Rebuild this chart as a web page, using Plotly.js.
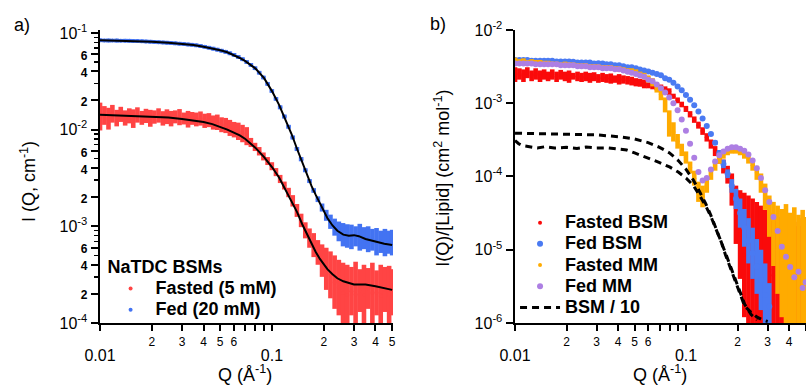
<!DOCTYPE html>
<html>
<head>
<meta charset="utf-8">
<script src="https://cdn.plot.ly/plotly-3.0.1.min.js"></script>
<style>html,body{margin:0;padding:0;background:#fff;}#chart{width:806px;height:387px;}</style>
</head>
<body>
<div id="chart"></div>
<script>
// ---------- shared Q grid (Å^-1) ----------
const Q = [0.0100,0.0106,0.0112,0.0118,0.0125,0.0132,0.0140,0.0148,0.0156,0.0165,
0.0175,0.0185,0.0196,0.0207,0.0219,0.0232,0.0245,0.0259,0.0274,0.0290,
0.0307,0.0325,0.0343,0.0363,0.0384,0.0406,0.0430,0.0455,0.0481,0.0509,
0.0538,0.0569,0.0602,0.0637,0.0674,0.0713,0.0754,0.0797,0.0843,0.0892,
0.0943,0.0998,0.1055,0.1116,0.1181,0.1249,0.1321,0.1397,0.1478,0.1563,
0.1653,0.1749,0.1850,0.1956,0.2069,0.2189,0.2315,0.2449,0.2590,0.2740,
0.2898,0.3065,0.3242,0.3429,0.3627,0.3837,0.4058,0.4292,0.4540,0.4802,0.5000];

// ---------- panel a) NaTDC BSMs: data envelopes (cm^-1) ----------
const fastedLo = [0.0098,0.0112,0.0100,0.0118,0.0108,0.0120,0.0110,0.0116,0.0104,0.0118,
0.0112,0.0117,0.0107,0.0115,0.0118,0.0110,0.0114,0.0108,0.0116,0.0111,
0.0113,0.0105,0.0112,0.0108,0.0110,0.0104,0.0106,0.0100,0.0099,0.0094,
0.0092,0.0086,0.0083,0.0078,0.0074,0.0069,0.0066,0.0060,0.0054,0.0048,
0.0043,0.0038,0.0033,0.0028,0.0024,0.0020,0.0016,0.00125,0.00098,0.00075,
0.00060,0.00048,0.00040,0.00030,0.00022,0.00018,0.00014,0.00012,0.00010,0.000095,
0.00012,0.00009,0.00013,0.000095,0.00014,0.00010,0.00012,0.000092,0.00013,0.00010,0.00012];
const fastedHi = [0.0190,0.0175,0.0168,0.0180,0.0160,0.0172,0.0158,0.0166,0.0162,0.0170,
0.0156,0.0164,0.0160,0.0158,0.0166,0.0155,0.0162,0.0156,0.0158,0.0163,
0.0150,0.0156,0.0152,0.0150,0.0154,0.0146,0.0148,0.0140,0.0143,0.0134,
0.0132,0.0126,0.0120,0.0118,0.0112,0.0106,0.0082,0.0073,0.0066,0.0058,
0.0052,0.0046,0.0040,0.0034,0.0029,0.0025,0.0021,0.0017,0.00135,0.00110,
0.00095,0.00085,0.00072,0.00065,0.00060,0.00055,0.00050,0.00045,0.00042,0.00040,
0.00038,0.00043,0.00036,0.00040,0.00037,0.00042,0.00035,0.00040,0.00038,0.00039,0.00036];
const fedLo = [0.0802,0.0800,0.0796,0.0800,0.0794,0.0798,0.0795,0.0792,0.0790,0.0788,
0.0784,0.0780,0.0776,0.0771,0.0766,0.0762,0.0756,0.0751,0.0745,0.0740,
0.0733,0.0726,0.0719,0.0711,0.0700,0.0686,0.0672,0.0657,0.0642,0.0626,
0.0608,0.0588,0.0566,0.0540,0.0511,0.0478,0.0446,0.0413,0.0371,0.0331,
0.0284,0.0240,0.0199,0.0162,0.0130,0.0102,0.0079,0.0060,0.0047,0.00362,
0.00280,0.00222,0.00178,0.00142,0.00114,0.00094,0.00080,0.00070,0.00062,0.00060,
0.00058,0.00062,0.00056,0.00058,0.00054,0.00056,0.00050,0.00053,0.00049,0.00052,0.00050];
const fedHi = [0.0878,0.0870,0.0874,0.0868,0.0872,0.0866,0.0868,0.0866,0.0862,0.0860,
0.0856,0.0852,0.0848,0.0842,0.0838,0.0832,0.0828,0.0821,0.0815,0.0808,
0.0801,0.0794,0.0787,0.0777,0.0766,0.0750,0.0734,0.0719,0.0702,0.0684,
0.0666,0.0643,0.0619,0.0590,0.0559,0.0522,0.0488,0.0451,0.0405,0.0361,
0.0310,0.0262,0.0217,0.0178,0.0143,0.0112,0.0087,0.0066,0.0052,0.00398,
0.00308,0.00248,0.00204,0.00172,0.00148,0.00132,0.00120,0.00112,0.00108,0.00105,
0.00104,0.00100,0.00106,0.00098,0.00100,0.00094,0.00096,0.00090,0.00094,0.00090,0.00092];

// model fits (black lines)
const fitQ = [0.010,0.015,0.020,0.025,0.030,0.035,0.040,0.045,0.050,0.055,0.060,0.065,0.070,0.080,0.090,0.100,
0.110,0.120,0.130,0.140,0.150,0.160,0.170,0.180,0.190,0.200,0.210,0.225,0.240,0.260,0.280,0.300,0.320,0.350,0.400,0.450,0.500];
const fitFed = [0.084,0.083,0.081,0.079,0.077,0.075,0.072,0.069,0.066,0.063,0.059,0.055,0.051,0.043,0.034,0.025,
0.018,0.0128,0.0090,0.0063,0.0046,0.0034,0.0026,0.0021,0.00172,0.00143,0.00122,0.00102,0.00090,0.00082,0.00080,0.00081,0.00079,0.00074,0.00069,0.00066,0.00064];
const fitFasted = [0.0142,0.0139,0.0136,0.0133,0.0129,0.0125,0.0120,0.0114,0.0107,0.0100,0.0093,0.0087,0.0080,0.0065,0.0052,0.0041,
0.0032,0.0024,0.0018,0.0014,0.00105,0.00082,0.00066,0.00054,0.00046,0.00040,0.00036,0.00032,0.00029,0.00027,0.00026,0.00025,0.00025,0.00025,0.00024,0.00023,0.00022];

// ---------- panel b) per lipid (cm^2 mol^-1) ----------
const bsmFastedLo = [0.00195,0.0021,0.00195,0.0022,0.0020,0.0021,0.00195,0.0021,0.0020,0.0021,
0.00195,0.0021,0.0020,0.0019,0.0021,0.0020,0.00195,0.0020,0.0019,0.0020,
0.0019,0.00195,0.0019,0.00185,0.0019,0.0018,0.00185,0.0018,0.00175,0.0017,
0.00168,0.0016,0.0016,0.00155,0.0015,0.00145,0.0014,0.0013,0.00115,0.0010,
0.00088,0.00076,0.00064,0.00054,0.00045,0.00037,0.00030,0.00024,0.00019,0.00015,
0.00011,0.00008,0.00004,0.000012,0.000004,0.0000012,0.0000008,0.0000009,0.0000008,0.0000009,
0.0000008,0.0000009,0.0000008,0.0000009,0.0000008,0.0000009,0.0000008,0.0000009,0.0000008,0.0000009,0.0000008];
const bsmFastedHi = [0.0031,0.0030,0.0029,0.0031,0.0028,0.0030,0.0028,0.0029,0.0027,0.0029,
0.0027,0.00285,0.0027,0.0028,0.0026,0.0027,0.0026,0.0027,0.0026,0.00265,
0.0025,0.0026,0.0025,0.00255,0.0024,0.0025,0.0024,0.00235,0.0023,0.0022,
0.00215,0.0021,0.0020,0.0019,0.00185,0.0018,0.0017,0.0016,0.00135,0.0012,
0.00105,0.00092,0.00078,0.00066,0.00056,0.00047,0.00039,0.00032,0.00026,0.00021,
0.00017,0.00014,0.00011,0.000075,0.000065,0.000060,0.000055,0.000050,0.000045,0.000040,
0.000035,0.000032,0.000025,0.000028,0.000022,0.000026,0.000020,0.000024,0.000021,0.000027,0.000022];
const bsmFedLo = [0.00375,0.00377,0.00374,0.00376,0.00366,0.00368,0.00365,0.00367,0.00364,0.00366,
0.00356,0.00357,0.00355,0.00357,0.00354,0.00346,0.00347,0.00345,0.00346,0.00336,
0.00337,0.00335,0.00327,0.00328,0.00317,0.00318,0.00307,0.00298,0.00299,0.00288,
0.00279,0.00269,0.00260,0.00250,0.00240,0.00231,0.00211,0.00202,0.00182,0.00163,
0.00144,0.00125,0.00107,0.00090,0.00074,0.00059,0.00047,0.00036,0.00027,0.00019,
0.00013,0.000095,0.000060,0.000036,0.000020,0.000011,0.0000065,0.0000040,0.0000025,0.0000015,
0.0000009,0.0000008,null,null,null,null,null,null,null,null,null];
const bsmFedHi = [0.00405,0.00404,0.00406,0.00403,0.00395,0.00393,0.00396,0.00394,0.00395,0.00393,
0.00385,0.00384,0.00386,0.00384,0.00385,0.00374,0.00375,0.00373,0.00374,0.00364,
0.00364,0.00365,0.00353,0.00354,0.00343,0.00343,0.00333,0.00322,0.00323,0.00312,
0.00301,0.00291,0.00281,0.00270,0.00260,0.00250,0.00229,0.00218,0.00198,0.00177,
0.00156,0.00135,0.00117,0.00098,0.00080,0.00065,0.00051,0.00040,0.00031,0.00023,
0.00017,0.000125,0.000092,0.000068,0.000050,0.000036,0.000027,0.000020,0.000014,0.000010,
0.0000065,0.0000035,null,null,null,null,null,null,null,null,null];
const mmFastedLo = [0.0033,0.0034,0.0033,0.0034,0.0033,0.0034,0.0032,0.0033,0.0032,0.0033,
0.0032,0.0032,0.0031,0.0032,0.0031,0.0031,0.0030,0.0031,0.0030,0.0030,
0.0029,0.0029,0.0029,0.00285,0.0028,0.0027,0.0027,0.0026,0.0025,0.0024,
0.0023,0.0021,0.0019,0.0017,0.0014,0.0011,0.00075,0.00035,0.00030,0.00024,
0.00019,0.00015,0.00011,0.000075,0.000045,0.000038,0.000060,0.000090,0.000120,0.000150,
0.000175,0.000195,0.000205,0.000205,0.000195,0.000175,0.000150,0.000120,0.000090,0.000060,
0.000035,0.000015,0.0000060,0.0000025,0.0000012,0.0000009,0.0000008,0.0000009,0.0000008,0.0000009,0.0000008];
const mmFastedHi = [0.0042,0.0040,0.0041,0.0039,0.0040,0.0039,0.0039,0.0038,0.0038,0.0037,
0.0037,0.0036,0.0037,0.0036,0.0036,0.0035,0.0035,0.0035,0.0034,0.0034,
0.0034,0.0033,0.0033,0.0033,0.0032,0.0032,0.0031,0.0030,0.0030,0.0029,
0.0027,0.0026,0.0024,0.0022,0.0019,0.0016,0.0012,0.0008,0.00055,0.00038,
0.00028,0.00022,0.00016,0.00012,0.000085,0.000075,0.000095,0.000130,0.000160,0.000195,
0.000220,0.000245,0.000255,0.000255,0.000245,0.000225,0.000200,0.000170,0.000140,0.000110,
0.000080,0.000055,0.000045,0.000040,0.000036,0.000042,0.000032,0.000038,0.000030,0.000035,0.000028];
const mmFed = [0.0035,0.0035,0.0035,0.0035,0.0035,0.0034,0.0034,0.0034,0.0034,0.0034,
0.0034,0.0033,0.0033,0.0033,0.0033,0.0032,0.0032,0.0032,0.0031,0.0031,
0.0031,0.0030,0.0030,0.0030,0.0029,0.0029,0.0028,0.0027,0.0026,0.0025,
0.0024,0.0023,0.0021,0.0020,0.0018,0.0016,0.0014,0.0012,0.00100,0.00080,
0.00060,0.00042,0.00028,0.00018,0.000115,0.000088,0.000095,0.000125,0.000160,0.000195,
0.000220,0.000240,0.000250,0.000250,0.000240,0.000225,0.000200,0.000165,0.000130,0.000095,
0.000065,0.000045,0.000028,0.000018,0.000011,0.0000080,0.0000058,0.0000042,0.0000050,0.0000030,0.0000036];

// BSM / 10 (dashed)
const bsm10FedQ = [0.010,0.015,0.020,0.030,0.040,0.050,0.060,0.070,0.080,0.090,0.100,0.110,0.120,
0.130,0.140,0.150,0.160,0.170,0.180,0.190,0.200,0.210,0.220,0.240,0.260];
const bsm10Fed = [3.9e-4,3.85e-4,3.8e-4,3.7e-4,3.5e-4,3.25e-4,2.9e-4,2.5e-4,2.1e-4,1.65e-4,1.25e-4,9e-5,6.2e-5,
4.3e-5,2.9e-5,1.95e-5,1.3e-5,9e-6,6.3e-6,4.5e-6,3.2e-6,2.4e-6,1.8e-6,1.3e-6,1.1e-6];
const bsm10FastedQ = [0.0100,0.0105,0.0110,0.0120,0.0135,0.0150,0.0170,0.0200,0.0230,0.0260,
0.0300,0.0350,0.0400,0.0450,0.0500,0.0600,0.0700,0.0800,0.0900,0.1000,
0.1100,0.1200,0.1300,0.1400,0.1500,0.1600,0.1700,0.1800,0.1900,0.2000,
0.2100,0.2200,0.2400,0.2600,0.2800,0.3000];
const bsm10Fasted = [3.1e-4,2.8e-4,2.65e-4,2.55e-4,2.45e-4,2.55e-4,2.45e-4,2.5e-4,2.42e-4,2.52e-4,
2.45e-4,2.46e-4,2.35e-4,2.3e-4,2.1e-4,1.8e-4,1.55e-4,1.35e-4,1.15e-4,9.5e-5,
7.6e-5,5.5e-5,4.0e-5,2.8e-5,1.9e-5,1.3e-5,8.5e-6,6e-6,4.2e-6,3e-6,
2.2e-6,1.7e-6,1.4e-6,1.2e-6,1.1e-6,1.05e-6];

// tick labels
const xTickVals = [0.01,0.02,0.03,0.04,0.05,0.06,0.1,0.2,0.3,0.4,0.5];
const xTickText = ['<br><span style="font-size:16px">0.01</span>','2','3','4','5','6',
  '<br><span style="font-size:16px">0.1</span>','2','3','4','5'];
const xMinorVals = [0.07,0.08,0.09];
const yaTickVals = [1e-4,2e-4,4e-4,6e-4,1e-3,2e-3,4e-3,6e-3,1e-2,2e-2,4e-2,6e-2,1e-1];
const yaTickText = ['10<sup>-4</sup>','<span style="font-size:12px"><b>2</b></span>','<span style="font-size:12px"><b>4</b></span>','<span style="font-size:12px"><b>6</b></span>',
  '10<sup>-3</sup>','<span style="font-size:12px"><b>2</b></span>','<span style="font-size:12px"><b>4</b></span>','<span style="font-size:12px"><b>6</b></span>',
  '10<sup>-2</sup>','<span style="font-size:12px"><b>2</b></span>','<span style="font-size:12px"><b>4</b></span>','<span style="font-size:12px"><b>6</b></span>','10<sup>-1</sup>'];
const yaMinorVals = [3e-4,5e-4,7e-4,8e-4,9e-4,3e-3,5e-3,7e-3,8e-3,9e-3,3e-2,5e-2,7e-2,8e-2,9e-2];
const ybTickVals = [1e-6,1e-5,1e-4,1e-3,1e-2];
const ybTickText = ['10<sup>-6</sup>','10<sup>-5</sup>','10<sup>-4</sup>','10<sup>-3</sup>','10<sup>-2</sup>'];

const FONT = 'Liberation Sans, Arial, Helvetica, sans-serif';

function bandTrace(q, lo, hi, color, name, xa, ya, legend, msize, thick) {
  const y = [], up = [], dn = [];
  for (let i = 0; i < q.length; i++) {
    if (lo[i] == null || hi[i] == null) { y.push(null); up.push(null); dn.push(null); continue; }
    const m = Math.sqrt(lo[i] * hi[i]);
    y.push(m); up.push(hi[i] - m); dn.push(m - lo[i]);
  }
  return {type: 'scatter', mode: 'markers', x: q, y: y, xaxis: xa, yaxis: ya,
    name: name, legend: legend,
    marker: {color: color, size: msize},
    error_y: {type: 'data', symmetric: false, array: up, arrayminus: dn, color: color, thickness: thick, width: 0}};
}
function lbl(t) { return '<span style="font-size:18px"><b>' + t + '</b></span>'; }

const traces = [
  bandTrace(Q, fastedLo, fastedHi, '#ff4444', lbl('Fasted (5 mM)'), 'x', 'y', 'legend', 4, 4.6),
  bandTrace(Q, fedLo, fedHi, '#4373f2', lbl('Fed (20 mM)'), 'x', 'y', 'legend', 4, 4.6),
  {type: 'scatter', mode: 'lines', x: fitQ, y: fitFasted, xaxis: 'x', yaxis: 'y', showlegend: false,
    line: {color: 'black', width: 2}, name: 'fit fasted'},
  {type: 'scatter', mode: 'lines', x: fitQ, y: fitFed, xaxis: 'x', yaxis: 'y', showlegend: false,
    line: {color: 'black', width: 2}, name: 'fit fed'},

  bandTrace(Q, bsmFastedLo, bsmFastedHi, '#fa0a0a', lbl('Fasted BSM'), 'x2', 'y2', 'legend2', 4, 4.6),
  bandTrace(Q, bsmFedLo, bsmFedHi, '#4a7af2', lbl('Fed BSM'), 'x2', 'y2', 'legend2', 6, 4.6),
  bandTrace(Q, mmFastedLo, mmFastedHi, '#ffab00', lbl('Fasted MM'), 'x2', 'y2', 'legend2', 4, 4.6),
  {type: 'scatter', mode: 'markers', x: Q, y: mmFed, xaxis: 'x2', yaxis: 'y2', name: lbl('Fed MM'),
    legend: 'legend2', marker: {color: '#ad7fe3', size: 6}},
  {type: 'scatter', mode: 'lines', x: bsm10FedQ, y: bsm10Fed, xaxis: 'x2', yaxis: 'y2', name: lbl('BSM / 10'),
    legend: 'legend2', legendgroup: 'bsm10', line: {color: 'black', width: 3, dash: '7px,5px'}},
  {type: 'scatter', mode: 'lines', x: bsm10FastedQ, y: bsm10Fasted, xaxis: 'x2', yaxis: 'y2', name: 'BSM / 10',
    legend: 'legend2', legendgroup: 'bsm10', showlegend: false, line: {color: 'black', width: 3, dash: '7px,5px'}}
];

const axBase = {type: 'log', showline: true, linewidth: 2.5, linecolor: 'black', ticks: 'outside',
  ticklen: 7, tickwidth: 2, tickcolor: 'black', showgrid: false, zeroline: false, tickmode: 'array'};
const xMinor = {tickmode: 'array', tickvals: xMinorVals, ticks: 'outside', ticklen: 6, tickwidth: 2, tickcolor: 'black'};

function ann(text, x, y, extra) {
  return Object.assign({text: text, x: x, y: y, xref: 'paper', yref: 'paper', showarrow: false,
    xanchor: 'center', yanchor: 'middle', font: {size: 18, family: FONT, color: 'black'}}, extra || {});
}

const layout = {
  width: 806, height: 387, margin: {l: 0, r: 0, t: 0, b: 0},
  paper_bgcolor: 'white', plot_bgcolor: 'rgba(0,0,0,0)',
  font: {family: FONT, color: 'black'},
  xaxis: Object.assign({}, axBase, {domain: [0.1241, 0.4876], range: [-2, -0.296], anchor: 'y',
    tickvals: xTickVals, ticktext: xTickText, tickfont: {size: 12, family: FONT, color: 'black'}, ticklen: 6, minor: xMinor}),
  yaxis: Object.assign({}, axBase, {domain: [0.1654, 0.9225], range: [-4, -0.97], anchor: 'x',
    tickvals: yaTickVals, ticktext: yaTickText, tickfont: {size: 16, family: FONT, color: 'black'},
    minor: {tickmode: 'array', tickvals: yaMinorVals, ticks: 'outside', ticklen: 4, tickwidth: 1.5, tickcolor: 'black'}}),
  xaxis2: Object.assign({}, axBase, {domain: [0.639, 1.0], range: [-2, -0.299], anchor: 'y2',
    tickvals: xTickVals, ticktext: xTickText, tickfont: {size: 12, family: FONT, color: 'black'}, ticklen: 6, minor: xMinor}),
  yaxis2: Object.assign({}, axBase, {domain: [0.1654, 0.9225], range: [-6, -2], anchor: 'x2',
    tickvals: ybTickVals, ticktext: ybTickText, tickfont: {size: 16, family: FONT, color: 'black'}}),
  legend: {x: 0.131, y: 0.355, xanchor: 'left', yanchor: 'top', bgcolor: 'rgba(0,0,0,0)',
    font: {size: 14, family: FONT, color: 'black'}, itemwidth: 40, tracegroupgap: 0,
    title: {text: '<b>NaTDC BSMs</b>', font: {size: 18, family: FONT, color: 'black'}}},
  legend2: {x: 0.639, y: 0.465, xanchor: 'left', yanchor: 'top', bgcolor: 'rgba(0,0,0,0)',
    font: {size: 14, family: FONT, color: 'black'}, itemwidth: 40, tracegroupgap: 0},
  annotations: [
    ann('a)', 0.0273, 0.9354),
    ann('b)', 0.5434, 0.9380),
    ann('I (Q, cm<sup>-1</sup>)', 0.0347, 0.532, {textangle: -90}),
    ann('I(Q)/[Lipid] (cm<sup>2</sup> mol<sup>-1</sup>)', 0.548, 0.540, {textangle: -90}),
    ann('Q (Å<sup>-1</sup>)', 0.304, 0.036),
    ann('Q (Å<sup>-1</sup>)', 0.819, 0.036)
  ]
};

Plotly.newPlot('chart', traces, layout, {staticPlot: true, displayModeBar: false});
</script>
</body>
</html>
